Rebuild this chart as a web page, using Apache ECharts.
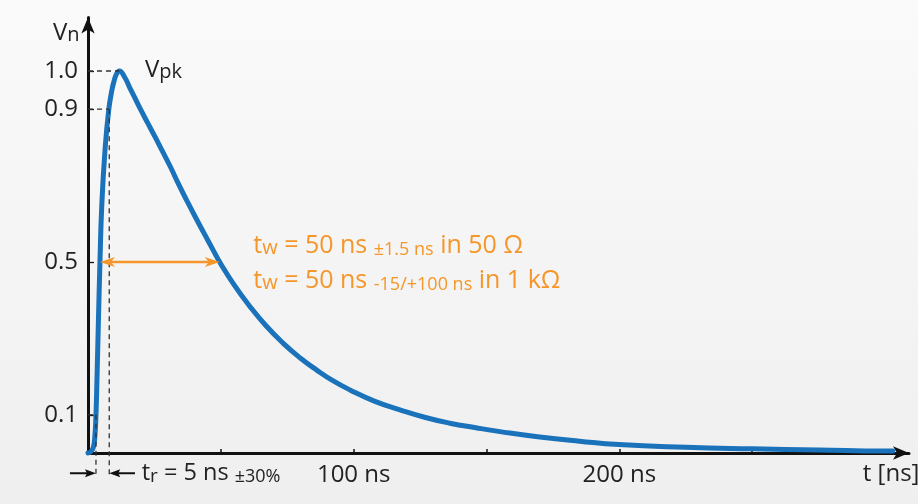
<!DOCTYPE html>
<html>
<head>
<meta charset="utf-8">
<script src="https://cdn.jsdelivr.net/npm/echarts@6/dist/echarts.min.js"></script>
<style>
html,body{margin:0;padding:0;background:#f5f5f5;}
#chart{width:918px;height:504px;}
</style>
</head>
<body>
<div id="chart"></div>
<script>
// ---- data ----
const timeNs = [0, 1, 2, 2.6, 3.0, 3.4, 3.9, 4.5, 5.2, 6.4, 7.8, 9.0, 9.9, 10.8, 11.8, 13.7, 15.6, 17.6, 19.6, 22.3, 25.2, 28, 31.1, 34, 37.1, 40.3, 43.7, 46.8, 49.9, 55, 61, 67, 73.5, 80, 86.1, 92, 98.6, 108, 117.4, 127, 136.2, 146, 155.1, 170, 185, 199.8, 225, 250, 275, 300, 302.9];
const voltage = [0, 0.003, 0.015, 0.045, 0.1, 0.2, 0.34, 0.5, 0.65, 0.793, 0.898, 0.95, 0.976, 0.993, 1.0, 0.985, 0.958, 0.93, 0.902, 0.866, 0.828, 0.79, 0.748, 0.705, 0.662, 0.619, 0.575, 0.535, 0.496, 0.44, 0.383, 0.333, 0.287, 0.248, 0.217, 0.19, 0.165, 0.135, 0.113, 0.093, 0.078, 0.066, 0.056, 0.042, 0.031, 0.022, 0.015, 0.011, 0.008, 0.005, 0.005];

const xTickValues = [50, 100, 150, 200, 250, 300];
const xLabelValues = [100, 200];
const xLabelSuffix = ' ns';
const yLabelValues = [0.1, 0.5, 0.9, 1.0];

// annotation anchors (data space)
const peakT = 11.8, peakV = 1.0;
const t10 = 3.0, v10 = 0.1;
const t90 = 8.0, v90 = 0.9;
const halfV = 0.5, halfLeftT = 4.5, halfRightT = 49.6;
const belowAxisV = -0.063;   // end of dashed rise-time guides
const trArrowV = -0.053;     // level of rise-time arrows
const trArrowLeftTail = -6.8, trArrowRightTail = 17.7;

const texts = {
  yName:  { t: -13.2, v: 1.073 },
  vpk:    { t: 21.45, v: 0.976 },
  tr:     { t: 20.2,  v: -0.079 },
  tw1:    { t: 62.2,  v: 0.516 },
  tw2:    { t: 62.2,  v: 0.424 },
  xName:  { t: 291.6, v: -0.081 }
};

const FONT = '"Open Sans", "Noto Sans", sans-serif';
const BLUE = '#1a72bb';
const ORANGE = '#f5962a';
const INK = '#222222';

const chart = echarts.init(document.getElementById('chart'), null, {renderer: 'canvas'});

const option = {
  animation: false,
  backgroundColor: 'transparent',
  grid: { left: 88, width: 821, top: 17.5, bottom: 51, containLabel: false },
  xAxis: {
    type: 'value', min: 0, max: 309,
    splitLine: { show: false },
    axisLine: { show: true, lineStyle: { color: '#111', width: 3 }, symbol: ['none', 'arrow'], symbolSize: [10, 16] },
    axisTick: { show: true, inside: true, length: 4, customValues: xTickValues, lineStyle: { color: '#111', width: 1.5 } },
    axisLabel: { show: true, customValues: xLabelValues, margin: 10, color: INK, fontSize: 24, fontFamily: FONT,
                 formatter: v => v + xLabelSuffix }
  },
  yAxis: {
    type: 'value', min: 0, max: 1.14,
    splitLine: { show: false },
    axisLine: { show: true, lineStyle: { color: '#111', width: 3 }, symbol: ['none', 'arrow'], symbolSize: [10, 16] },
    axisTick: { show: true, inside: true, length: 6, customValues: yLabelValues, lineStyle: { color: '#111', width: 1.3 } },
    axisLabel: { show: true, customValues: yLabelValues, margin: 10, color: INK, fontSize: 24, fontFamily: FONT,
                 formatter: v => v.toFixed(1) }
  },
  series: [{
    type: 'line',
    data: timeNs.map((t, i) => [t, voltage[i]]),
    showSymbol: false,
    smooth: 0.5,
    clip: false,
    lineStyle: { color: BLUE, width: 5, cap: 'round', join: 'round' },
    z: 3
  }]
};
chart.setOption(option);

const P = (t, v) => chart.convertToPixel({ gridIndex: 0 }, [t, v]);

function seg(a, b, stroke, width, dash) {
  return { type: 'line', z: 50, silent: true,
    shape: { x1: a[0], y1: a[1], x2: b[0], y2: b[1] },
    style: { stroke: stroke, lineWidth: width, lineDash: dash || null } };
}
function head(tip, from, len, wid, notch, color) {
  const dx = tip[0] - from[0], dy = tip[1] - from[1];
  const d = Math.hypot(dx, dy), ux = dx / d, uy = dy / d;
  const bx = tip[0] - ux * len, by = tip[1] - uy * len;
  const nx = tip[0] - ux * (len - notch), ny = tip[1] - uy * (len - notch);
  return { type: 'polygon', z: 51, silent: true,
    shape: { points: [tip, [bx - uy * wid / 2, by + ux * wid / 2], [nx, ny], [bx + uy * wid / 2, by - ux * wid / 2]] },
    style: { fill: color } };
}
function rich(anchor, text, richStyles) {
  const p = P(anchor.t, anchor.v);
  return { type: 'text', z: 60, silent: true, x: p[0], y: p[1] + 2.5,
    style: { text: text, rich: richStyles, align: 'left', verticalAlign: 'bottom', fill: INK, fontFamily: FONT, fontSize: 22 } };
}
function tok(size, color) {
  return { fontSize: size, fontFamily: FONT, fill: color, color: color, verticalAlign: 'bottom' };
}

const dash = [5, 4];
const g = [];
// background
g.push({ type: 'rect', z: -100, silent: true, shape: { x: 0, y: 0, width: 918, height: 504 },
  style: { fill: new echarts.graphic.LinearGradient(0, 0, 0, 1, [{ offset: 0, color: '#fafafa' }, { offset: 1, color: '#efefef' }]) } });
// dashed guides
g.push(seg(P(0, peakV), P(peakT, peakV), '#333', 1.3, dash));
g.push(seg(P(0, v90), P(t90, v90), '#333', 1.3, dash));
g.push(seg(P(t90, v90), P(t90, belowAxisV), '#333', 1.3, dash));
g.push(seg(P(0, v10), P(t10, v10), '#333', 1.3, dash));
g.push(seg(P(t10, v10), P(t10, belowAxisV), '#333', 1.3, dash));
// rise-time arrows
{
  const a1 = P(trArrowLeftTail, trArrowV), a2 = P(t10, trArrowV);
  g.push(seg(a1, [a2[0] - 6, a2[1]], '#111', 2));
  g.push(head(a2, a1, 11, 8, 2, '#111'));
  const b1 = P(trArrowRightTail, trArrowV), b2 = P(t90, trArrowV);
  g.push(seg(b1, [b2[0] + 6, b2[1]], '#111', 2));
  g.push(head(b2, b1, 11, 8, 2, '#111'));
}
// pulse width arrow
{
  const l = P(halfLeftT, halfV), r = P(halfRightT, halfV);
  g.push(seg([l[0] + 8, l[1]], [r[0] - 8, r[1]], ORANGE, 2.5));
  g.push(head(l, r, 15, 10, 4, ORANGE));
  g.push(head(r, l, 15, 10, 4, ORANGE));
}
// texts
g.push(rich(texts.yName, '{m|V}{s|n}', { m: tok(24, INK), s: tok(20, INK) }));
g.push(rich(texts.vpk, '{m|V}{s|pk}', { m: tok(24, INK), s: tok(20, INK) }));
g.push(rich(texts.tr, '{m|t}{s|r}{m| = 5 ns }{k|±30%}', { m: tok(23.5, INK), s: tok(19, INK), k: tok(18, INK) }));
g.push(rich(texts.tw1, '{m|t}{s|w}{m| = 50 ns }{k|±1.5 ns}{m| in 50 Ω}', { m: tok(25, ORANGE), s: tok(20, ORANGE), k: tok(18, ORANGE) }));
g.push(rich(texts.tw2, '{m|t}{s|w}{m| = 50 ns }{k|-15/+100 ns}{m| in 1 kΩ}', { m: tok(25, ORANGE), s: tok(20, ORANGE), k: tok(18, ORANGE) }));
g.push(rich(texts.xName, '{m|t [ns]}', { m: tok(24, INK) }));

chart.setOption({ graphic: { elements: g } });
</script>
</body>
</html>
